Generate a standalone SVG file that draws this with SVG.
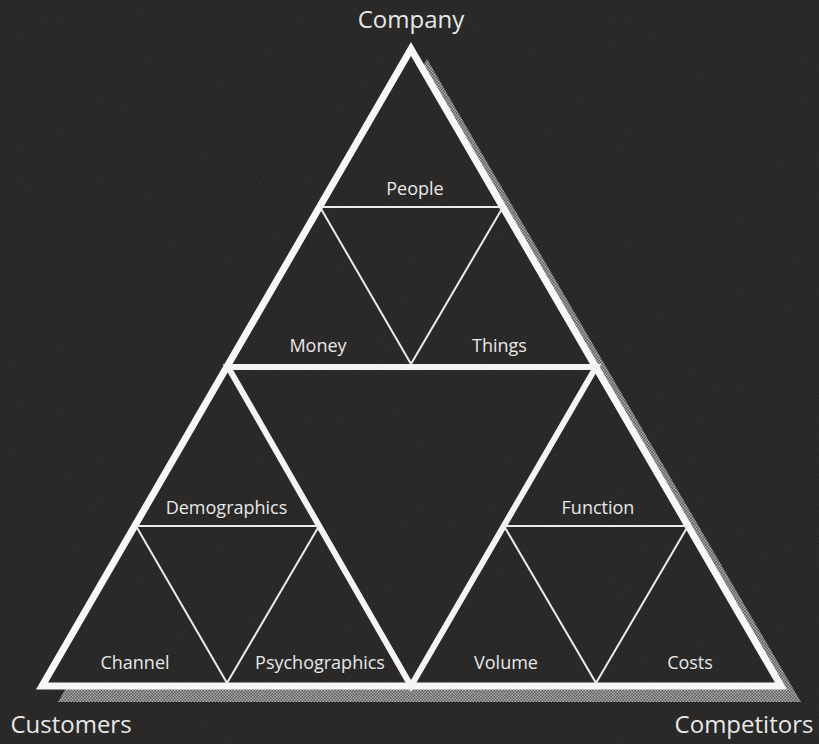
<svg xmlns="http://www.w3.org/2000/svg" width="819" height="744" viewBox="0 0 819 744">
  <defs>
    <pattern id="halftone" width="3" height="3" patternUnits="userSpaceOnUse">
      <rect width="3" height="3" fill="#606060"/>
      <rect x="0" y="0" width="1.5" height="1.5" fill="#b8b8b8"/>
      <rect x="1.5" y="1.5" width="1.5" height="1.5" fill="#b8b8b8"/>
    </pattern>
    <filter id="grain" x="0" y="0" width="100%" height="100%">
      <feTurbulence type="fractalNoise" baseFrequency="0.9" numOctaves="2" seed="4" result="n"/>
      <feColorMatrix type="matrix" values="0 0 0 0 0  0 0 0 0 0  0 0 0 0 0  0 0 0 -1.2 0.75" />
    </filter>
    <style>
      .bg { fill: #2e2c2a; }
      .thick { stroke: #f7f7f7; stroke-width: 7; fill: none; stroke-linejoin: miter; stroke-miterlimit: 10; }
      .inner { stroke: #f4f4f4; stroke-width: 6; fill: none; stroke-linejoin: miter; }
      .thin { stroke: #ececec; stroke-width: 2; fill: none; }
      .lbl { font-family: "Open Sans", "Noto Sans", "Liberation Sans", sans-serif; fill: #e6e8ea; text-anchor: middle; }
      .big { font-size: 24px; }
      .small { font-size: 18px; }
    </style>
  </defs>

  <rect class="bg" x="0" y="0" width="819" height="744"/>

  <g id="shadow">
    <polygon points="427,59 801,702 58,702" fill="url(#halftone)"/>
    <polygon class="bg" points="411,49 781,686 42,686"/>
  </g>

  <rect x="0" y="0" width="819" height="744" filter="url(#grain)" opacity="0.35"/>

  <g id="connectors">
    <polygon id="outer-triangle" class="thick" points="411,49 781,686 42,686"/>
    <polygon id="middle-triangle" class="inner" points="228,367 596,367 411,686"/>
    <g id="top-sub">
      <line class="thin" x1="320" y1="207" x2="503" y2="207"/>
      <line class="thin" x1="320" y1="207" x2="411" y2="364"/>
      <line class="thin" x1="503" y1="207" x2="411" y2="364"/>
    </g>
    <g id="left-sub">
      <line class="thin" x1="136" y1="526" x2="319" y2="526"/>
      <line class="thin" x1="136" y1="526" x2="227" y2="683"/>
      <line class="thin" x1="319" y1="526" x2="227" y2="683"/>
    </g>
    <g id="right-sub">
      <line class="thin" x1="504" y1="526" x2="688" y2="526"/>
      <line class="thin" x1="504" y1="526" x2="596" y2="683"/>
      <line class="thin" x1="688" y1="526" x2="596" y2="683"/>
    </g>
  </g>

  <g id="node-company"><text class="lbl big" x="411" y="28">Company</text></g>
  <g id="node-customers"><text class="lbl big" x="71" y="733">Customers</text></g>
  <g id="node-competitors"><text class="lbl big" x="744" y="733">Competitors</text></g>

  <g id="node-people"><text class="lbl small" x="415" y="195">People</text></g>
  <g id="node-money"><text class="lbl small" x="318" y="352">Money</text></g>
  <g id="node-things"><text class="lbl small" x="499.5" y="352">Things</text></g>

  <g id="node-demographics"><text class="lbl small" x="226.5" y="514">Demographics</text></g>
  <g id="node-channel"><text class="lbl small" x="135" y="669">Channel</text></g>
  <g id="node-psychographics"><text class="lbl small" x="320" y="669">Psychographics</text></g>

  <g id="node-function"><text class="lbl small" x="598" y="514">Function</text></g>
  <g id="node-volume"><text class="lbl small" x="506" y="669">Volume</text></g>
  <g id="node-costs"><text class="lbl small" x="690" y="669">Costs</text></g>
</svg>
